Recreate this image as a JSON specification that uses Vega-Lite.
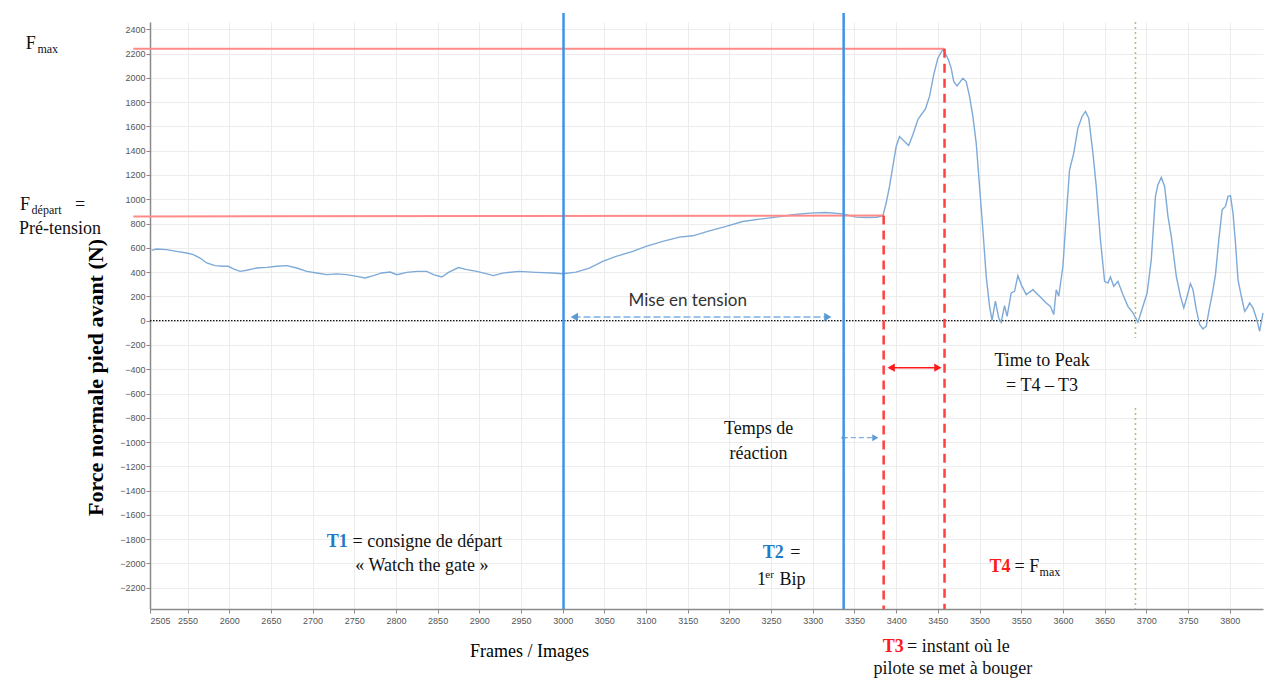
{
  "$schema": "https://vega.github.io/schema/vega-lite/v6.json",
  "width": 1113,
  "height": 587,
  "autosize": {"type": "none"},
  "padding": {"left": 150, "top": 22, "right": 9, "bottom": 73},
  "background": "white",
  "config": {
    "view": {"stroke": null},
    "axis": {
      "labelFont": "Liberation Sans",
      "labelFontSize": 9,
      "labelColor": "#555555",
      "domainColor": "#8a8a8a",
      "domainWidth": 1.5,
      "tickColor": "#8a8a8a",
      "tickSize": 4,
      "gridColor": "#ececec",
      "gridWidth": 1,
      "titleFont": "Liberation Serif",
      "titleColor": "#000000"
    }
  },
  "datasets": {
    "curve": [
      {"frame": 2507, "force": 579}, {"frame": 2513, "force": 590}, {"frame": 2525, "force": 585},
      {"frame": 2537, "force": 571}, {"frame": 2549, "force": 557}, {"frame": 2557, "force": 544},
      {"frame": 2565, "force": 516}, {"frame": 2573, "force": 475}, {"frame": 2583, "force": 453},
      {"frame": 2593, "force": 448}, {"frame": 2599, "force": 448}, {"frame": 2605, "force": 426},
      {"frame": 2613, "force": 406}, {"frame": 2621, "force": 415}, {"frame": 2633, "force": 434},
      {"frame": 2645, "force": 439}, {"frame": 2657, "force": 448}, {"frame": 2669, "force": 453},
      {"frame": 2681, "force": 434}, {"frame": 2693, "force": 406}, {"frame": 2705, "force": 393},
      {"frame": 2717, "force": 379}, {"frame": 2729, "force": 385}, {"frame": 2741, "force": 379},
      {"frame": 2753, "force": 365}, {"frame": 2763, "force": 352}, {"frame": 2773, "force": 371},
      {"frame": 2783, "force": 393}, {"frame": 2793, "force": 401}, {"frame": 2801, "force": 379},
      {"frame": 2813, "force": 398}, {"frame": 2825, "force": 406}, {"frame": 2837, "force": 406},
      {"frame": 2845, "force": 379}, {"frame": 2855, "force": 360}, {"frame": 2863, "force": 398},
      {"frame": 2875, "force": 437}, {"frame": 2885, "force": 420}, {"frame": 2897, "force": 406},
      {"frame": 2908, "force": 387}, {"frame": 2917, "force": 371}, {"frame": 2928, "force": 392},
      {"frame": 2948, "force": 406}, {"frame": 2968, "force": 398}, {"frame": 2988, "force": 392},
      {"frame": 3000, "force": 387}, {"frame": 3016, "force": 400}, {"frame": 3032, "force": 433},
      {"frame": 3048, "force": 488}, {"frame": 3064, "force": 529}, {"frame": 3084, "force": 570},
      {"frame": 3100, "force": 612}, {"frame": 3120, "force": 653}, {"frame": 3140, "force": 688},
      {"frame": 3156, "force": 699}, {"frame": 3176, "force": 740}, {"frame": 3196, "force": 776},
      {"frame": 3216, "force": 817}, {"frame": 3236, "force": 836}, {"frame": 3256, "force": 853},
      {"frame": 3276, "force": 872}, {"frame": 3296, "force": 886}, {"frame": 3316, "force": 891},
      {"frame": 3336, "force": 880}, {"frame": 3352, "force": 853}, {"frame": 3364, "force": 850},
      {"frame": 3376, "force": 852}, {"frame": 3384, "force": 862}, {"frame": 3388, "force": 969},
      {"frame": 3392, "force": 1106}, {"frame": 3396, "force": 1270}, {"frame": 3400, "force": 1435},
      {"frame": 3404, "force": 1517}, {"frame": 3410, "force": 1476}, {"frame": 3415, "force": 1443},
      {"frame": 3420, "force": 1531}, {"frame": 3426, "force": 1655}, {"frame": 3430, "force": 1696},
      {"frame": 3435, "force": 1742}, {"frame": 3440, "force": 1847}, {"frame": 3445, "force": 2025},
      {"frame": 3450, "force": 2162}, {"frame": 3456, "force": 2236}, {"frame": 3462, "force": 2162},
      {"frame": 3466, "force": 2080}, {"frame": 3469, "force": 1970}, {"frame": 3473, "force": 1934},
      {"frame": 3480, "force": 1997}, {"frame": 3484, "force": 1970}, {"frame": 3488, "force": 1847},
      {"frame": 3492, "force": 1682}, {"frame": 3496, "force": 1463}, {"frame": 3500, "force": 1106},
      {"frame": 3504, "force": 749}, {"frame": 3508, "force": 365}, {"frame": 3512, "force": 118},
      {"frame": 3515, "force": 3}, {"frame": 3519, "force": 160}, {"frame": 3523, "force": 22},
      {"frame": 3526, "force": -13}, {"frame": 3530, "force": 124}, {"frame": 3533, "force": 36},
      {"frame": 3538, "force": 228}, {"frame": 3542, "force": 242}, {"frame": 3546, "force": 371},
      {"frame": 3550, "force": 297}, {"frame": 3556, "force": 214}, {"frame": 3564, "force": 255},
      {"frame": 3572, "force": 201}, {"frame": 3580, "force": 146}, {"frame": 3585, "force": 118},
      {"frame": 3589, "force": 50}, {"frame": 3592, "force": 255}, {"frame": 3595, "force": 201},
      {"frame": 3600, "force": 448}, {"frame": 3604, "force": 859}, {"frame": 3608, "force": 1243},
      {"frame": 3613, "force": 1380}, {"frame": 3618, "force": 1586}, {"frame": 3623, "force": 1682},
      {"frame": 3627, "force": 1723}, {"frame": 3631, "force": 1668}, {"frame": 3636, "force": 1380},
      {"frame": 3640, "force": 1106}, {"frame": 3645, "force": 667}, {"frame": 3650, "force": 324},
      {"frame": 3654, "force": 310}, {"frame": 3657, "force": 360}, {"frame": 3661, "force": 283},
      {"frame": 3666, "force": 324}, {"frame": 3672, "force": 214}, {"frame": 3678, "force": 118},
      {"frame": 3684, "force": 64}, {"frame": 3690, "force": -13}, {"frame": 3696, "force": 118},
      {"frame": 3701, "force": 228}, {"frame": 3706, "force": 502}, {"frame": 3711, "force": 1024},
      {"frame": 3714, "force": 1120}, {"frame": 3718, "force": 1180}, {"frame": 3722, "force": 1106},
      {"frame": 3726, "force": 859}, {"frame": 3730, "force": 694}, {"frame": 3736, "force": 365},
      {"frame": 3741, "force": 201}, {"frame": 3745, "force": 105}, {"frame": 3749, "force": 201},
      {"frame": 3753, "force": 305}, {"frame": 3756, "force": 256}, {"frame": 3760, "force": 91},
      {"frame": 3764, "force": -32}, {"frame": 3768, "force": -68}, {"frame": 3772, "force": -46},
      {"frame": 3775, "force": 77}, {"frame": 3779, "force": 214}, {"frame": 3783, "force": 379},
      {"frame": 3787, "force": 667}, {"frame": 3791, "force": 914}, {"frame": 3795, "force": 941},
      {"frame": 3798, "force": 1024}, {"frame": 3801, "force": 1029}, {"frame": 3804, "force": 886},
      {"frame": 3807, "force": 640}, {"frame": 3810, "force": 338}, {"frame": 3814, "force": 201},
      {"frame": 3818, "force": 77}, {"frame": 3821, "force": 105}, {"frame": 3824, "force": 146},
      {"frame": 3828, "force": 105}, {"frame": 3832, "force": 22}, {"frame": 3836, "force": -87},
      {"frame": 3840, "force": 64}
    ],
    "zero": [{"frame": 2505, "frame2": 3840, "force": 0}],
    "redH": [
      {"frame": 2485, "frame2": 3458, "force": 2239, "force2": 2239},
      {"frame": 2485, "frame2": 3385, "force": 858, "force2": 866}
    ],
    "redV": [
      {"frame": 3385, "force": 866, "force2": -2375},
      {"frame": 3458, "force": 2239, "force2": -2375}
    ],
    "blueV": [
      {"frame": 3001, "force": 2535, "force2": -2375},
      {"frame": 3337, "force": 2535, "force2": -2375}
    ],
    "oliveV": [
      {"frame": 3687, "force": 2460, "force2": -143},
      {"frame": 3687, "force": -719, "force2": -2375}
    ],
    "tensionArrow": [{"frame": 3013, "frame2": 3317, "force": 30}],
    "tensionLeftTip": [{"frame": 3014, "force": 30}],
    "tensionRightTip": [{"frame": 3318, "force": 30}],
    "reactionArrow": [{"frame": 3336, "frame2": 3372, "force": -964}],
    "reactionRightTip": [{"frame": 3375, "force": -964}],
    "reactionLeftDot": [{"frame": 3337, "force": -964}],
    "peakArrow": [{"frame": 3395, "frame2": 3448, "force": -387}],
    "peakLeftTip": [{"frame": 3394, "force": -387}],
    "peakRightTip": [{"frame": 3450, "force": -387}],
    "sansText": [{"frame": 3150, "force": 162, "label": "Mise en tension"}],
    "serifCenter": [
      {"frame": 3575, "force": -332, "label": "Time to Peak"},
      {"frame": 3575, "force": -538, "label": "= T4 – T3"},
      {"frame": 3235, "force": -892, "label": "Temps de"},
      {"frame": 3235, "force": -1098, "label": "réaction"},
      {"frame": 2831, "force": -2018, "label": "« Watch the gate »"},
      {"frame": 3468, "force": -2869, "label": "pilote se met à bouger"},
      {"frame": 2397, "force": 755, "label": "Pré-tension"}
    ],
    "serifLeft": [
      {"frame": 2748, "force": -1820, "label": "= consigne de départ"},
      {"frame": 3273, "force": -1914, "label": "="},
      {"frame": 3233, "force": -2136, "label": "1"},
      {"frame": 3260, "force": -2136, "label": "Bip"},
      {"frame": 3542, "force": -2029, "label": "= F"},
      {"frame": 3413, "force": -2688, "label": "= instant où le"},
      {"frame": 2356, "force": 2280, "label": "F"},
      {"frame": 2349, "force": 953, "label": "F"},
      {"frame": 2415, "force": 953, "label": "="}
    ],
    "subText": [
      {"frame": 3572, "force": -2029, "label": "max"},
      {"frame": 2370, "force": 2280, "label": "max"},
      {"frame": 2363, "force": 953, "label": "départ"}
    ],
    "supText": [{"frame": 3243, "force": -2136, "label": "er"}],
    "blueBold": [
      {"frame": 2717, "force": -1820, "label": "T1"},
      {"frame": 3240, "force": -1914, "label": "T2"}
    ],
    "redBold": [
      {"frame": 3512, "force": -2029, "label": "T4"},
      {"frame": 3384, "force": -2688, "label": "T3"}
    ]
  },
  "encoding": {
    "x": {
      "field": "frame",
      "type": "quantitative",
      "scale": {"domain": [2505, 3840], "nice": false, "zero": false},
      "axis": {
        "values": [2505, 2550, 2600, 2650, 2700, 2750, 2800, 2850, 2900, 2950, 3000, 3050, 3100, 3150, 3200, 3250, 3300, 3350, 3400, 3450, 3500, 3550, 3600, 3650, 3700, 3750, 3800],
        "format": "d",
        "grid": true,
        "labelPadding": 3,
        "title": "Frames / Images",
        "titleFontSize": 18,
        "titleFontWeight": "normal",
        "titleX": 379,
        "titleY": 42,
        "titleAlign": "center",
        "titleBaseline": "middle"
      }
    },
    "y": {
      "field": "force",
      "type": "quantitative",
      "scale": {"domain": [-2375, 2460], "nice": false, "zero": false},
      "axis": {
        "values": [-2200, -2000, -1800, -1600, -1400, -1200, -1000, -800, -600, -400, -200, 0, 200, 400, 600, 800, 1000, 1200, 1400, 1600, 1800, 2000, 2200, 2400],
        "format": "d",
        "grid": true,
        "labelPadding": 1,
        "title": "Force normale pied avant (N)",
        "titleFontSize": 22,
        "titleFontWeight": "bold",
        "titleAngle": -90,
        "titleX": -55,
        "titleY": 355,
        "titleAlign": "center",
        "titleBaseline": "middle"
      }
    }
  },
  "layer": [
    {
      "data": {"name": "zero"},
      "mark": {"type": "rule", "color": "#111111", "strokeWidth": 1.2, "strokeDash": [1.5, 1.5]},
      "encoding": {"x2": {"field": "frame2"}}
    },
    {
      "data": {"name": "oliveV"},
      "mark": {"type": "rule", "color": "#bdbd7a", "strokeWidth": 1.6, "strokeDash": [2, 3], "clip": false},
      "encoding": {"y2": {"field": "force2"}}
    },
    {
      "data": {"name": "curve"},
      "mark": {"type": "line", "color": "#7eaad8", "strokeWidth": 1.4}
    },
    {
      "data": {"name": "redH"},
      "mark": {"type": "rule", "color": "#ff8a8a", "strokeWidth": 2, "clip": false},
      "encoding": {"x2": {"field": "frame2"}, "y2": {"field": "force2"}}
    },
    {
      "data": {"name": "blueV"},
      "mark": {"type": "rule", "color": "#3f93e6", "strokeWidth": 2.5, "clip": false},
      "encoding": {"y2": {"field": "force2"}}
    },
    {
      "data": {"name": "redV"},
      "mark": {"type": "rule", "color": "#ff4040", "strokeWidth": 2.5, "strokeDash": [9, 6], "clip": false},
      "encoding": {"y2": {"field": "force2"}}
    },
    {
      "data": {"name": "tensionArrow"},
      "mark": {"type": "rule", "color": "#9cc3ec", "strokeWidth": 2, "strokeDash": [7, 3]},
      "encoding": {"x2": {"field": "frame2"}}
    },
    {
      "data": {"name": "tensionLeftTip"},
      "mark": {"type": "point", "shape": "triangle-left", "filled": true, "size": 70, "color": "#5b9bd5", "opacity": 1}
    },
    {
      "data": {"name": "tensionRightTip"},
      "mark": {"type": "point", "shape": "triangle-right", "filled": true, "size": 70, "color": "#5b9bd5", "opacity": 1}
    },
    {
      "data": {"name": "reactionArrow"},
      "mark": {"type": "rule", "color": "#7fb1e3", "strokeWidth": 1.3, "strokeDash": [5, 3]},
      "encoding": {"x2": {"field": "frame2"}}
    },
    {
      "data": {"name": "reactionRightTip"},
      "mark": {"type": "point", "shape": "triangle-right", "filled": true, "size": 50, "color": "#5b9bd5", "opacity": 1}
    },
    {
      "data": {"name": "reactionLeftDot"},
      "mark": {"type": "point", "shape": "diamond", "filled": true, "size": 25, "color": "#5b9bd5", "opacity": 1}
    },
    {
      "data": {"name": "peakArrow"},
      "mark": {"type": "rule", "color": "#ff1a1a", "strokeWidth": 1.5},
      "encoding": {"x2": {"field": "frame2"}}
    },
    {
      "data": {"name": "peakLeftTip"},
      "mark": {"type": "point", "shape": "triangle-left", "filled": true, "size": 70, "color": "#ff1a1a", "opacity": 1}
    },
    {
      "data": {"name": "peakRightTip"},
      "mark": {"type": "point", "shape": "triangle-right", "filled": true, "size": 70, "color": "#ff1a1a", "opacity": 1}
    },
    {
      "data": {"name": "sansText"},
      "mark": {"type": "text", "font": "Lato", "fontSize": 17, "color": "#333333", "align": "center", "baseline": "middle"},
      "encoding": {"text": {"field": "label"}}
    },
    {
      "data": {"name": "serifCenter"},
      "mark": {"type": "text", "font": "Liberation Serif", "fontSize": 18, "color": "#111111", "align": "center", "baseline": "middle", "clip": false},
      "encoding": {"text": {"field": "label"}}
    },
    {
      "data": {"name": "serifLeft"},
      "mark": {"type": "text", "font": "Liberation Serif", "fontSize": 18, "color": "#111111", "align": "left", "baseline": "middle", "clip": false},
      "encoding": {"text": {"field": "label"}}
    },
    {
      "data": {"name": "subText"},
      "mark": {"type": "text", "font": "Liberation Serif", "fontSize": 12, "color": "#111111", "align": "left", "baseline": "middle", "dy": 5, "clip": false},
      "encoding": {"text": {"field": "label"}}
    },
    {
      "data": {"name": "supText"},
      "mark": {"type": "text", "font": "Liberation Serif", "fontSize": 11, "color": "#111111", "align": "left", "baseline": "middle", "dy": -5, "clip": false},
      "encoding": {"text": {"field": "label"}}
    },
    {
      "data": {"name": "blueBold"},
      "mark": {"type": "text", "font": "Liberation Serif", "fontSize": 18, "fontWeight": "bold", "color": "#1f7ac8", "align": "left", "baseline": "middle", "clip": false},
      "encoding": {"text": {"field": "label"}}
    },
    {
      "data": {"name": "redBold"},
      "mark": {"type": "text", "font": "Liberation Serif", "fontSize": 18, "fontWeight": "bold", "color": "#ff1a1a", "align": "left", "baseline": "middle", "clip": false},
      "encoding": {"text": {"field": "label"}}
    }
  ]
}
